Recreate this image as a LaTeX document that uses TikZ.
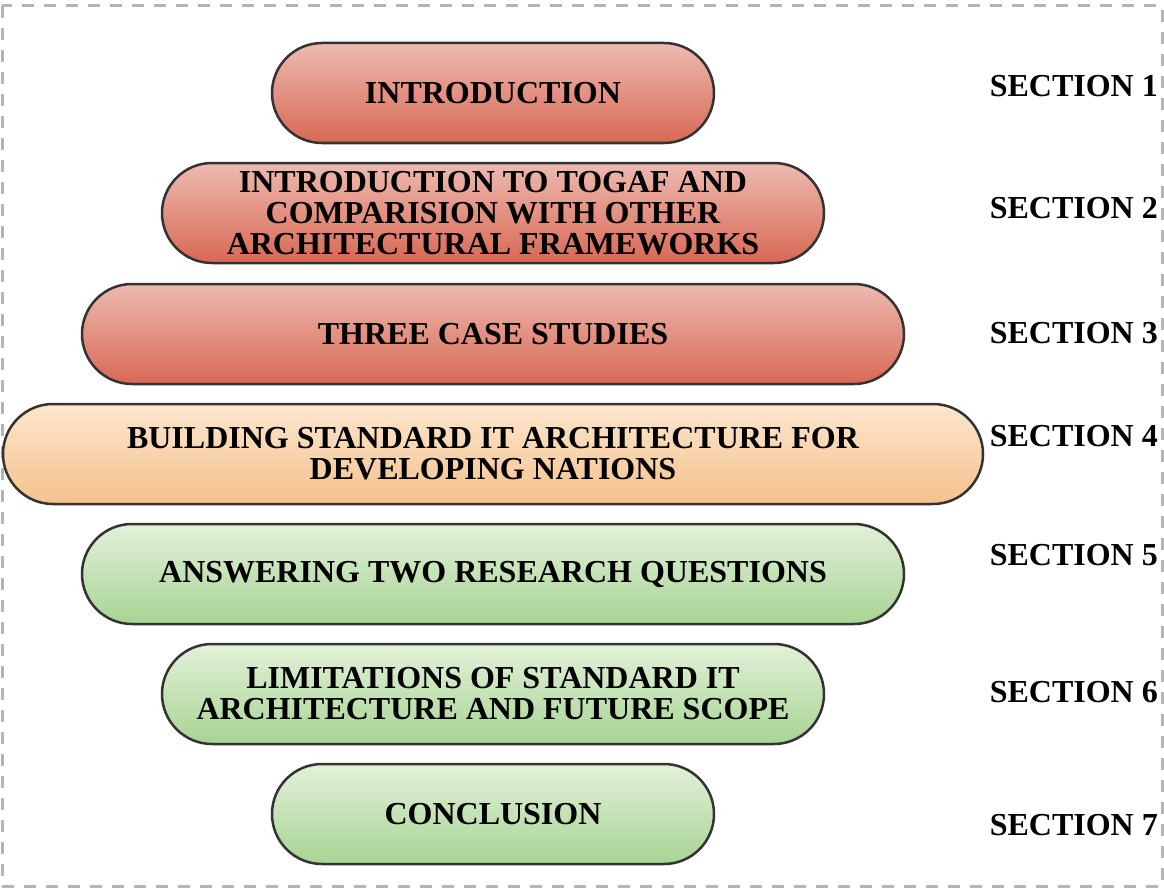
\documentclass[tikz,border=0pt]{standalone}
\usepackage{fontspec}
\setmainfont{Liberation Serif}
\usepackage{tikz}

\definecolor{redtop}{RGB}{237,186,176}
\definecolor{redbot}{RGB}{217,104,84}
\definecolor{orgtop}{RGB}{252,230,206}
\definecolor{orgbot}{RGB}{245,194,140}
\definecolor{grntop}{RGB}{226,241,217}
\definecolor{grnbot}{RGB}{168,212,148}
\definecolor{edge}{RGB}{51,51,51}
\definecolor{frame}{RGB}{180,180,180}

\tikzset{
  pill/.style={draw=edge, line width=2.5pt, rounded corners=50pt,
    minimum height=100pt, inner sep=0pt, align=center,
    font=\fontsize{32}{31}\selectfont\bfseries},
  redpill/.style={pill, top color=redtop, bottom color=redbot},
  orgpill/.style={pill, top color=orgtop, bottom color=orgbot},
  grnpill/.style={pill, top color=grntop, bottom color=grnbot},
  seclabel/.style={anchor=east, inner sep=0pt, font=\fontsize{32}{31}\selectfont\bfseries}
}

\begin{document}
\begin{tikzpicture}[line cap=round,line join=round,x=1pt,y=-1pt]
\useasboundingbox (0,0) rectangle (1164,888);
\draw[frame, line width=3pt, line cap=butt, dash pattern=on 12pt off 10pt] (2,6) rectangle (1162,886);
%
\node[redpill, minimum width=442pt] (intro) at (493,93) {INTRODUCTION};
\node[redpill, minimum width=662pt] (togaf) at (493,213) {INTRODUCTION TO TOGAF AND\\COMPARISION WITH OTHER\\ARCHITECTURAL FRAMEWORKS};
\node[redpill, minimum width=822pt] (cases) at (493,334) {THREE CASE STUDIES};
\node[orgpill, minimum width=980pt] (build) at (493,454) {BUILDING STANDARD IT ARCHITECTURE FOR\\DEVELOPING NATIONS};
\node[grnpill, minimum width=822pt] (answer) at (493,574) {ANSWERING TWO RESEARCH QUESTIONS};
\node[grnpill, minimum width=662pt] (limits) at (493,694) {LIMITATIONS OF STANDARD IT\\ARCHITECTURE AND FUTURE SCOPE};
\node[grnpill, minimum width=442pt] (concl) at (493,814) {CONCLUSION};
%
\node[seclabel] (sec1) at (1158,86) {SECTION 1};
\node[seclabel] (sec2) at (1158,208) {SECTION 2};
\node[seclabel] (sec3) at (1158,333) {SECTION 3};
\node[seclabel] (sec4) at (1158,436) {SECTION 4};
\node[seclabel] (sec5) at (1158,555) {SECTION 5};
\node[seclabel] (sec6) at (1158,692) {SECTION 6};
\node[seclabel] (sec7) at (1158,825) {SECTION 7};
\end{tikzpicture}
\end{document}
